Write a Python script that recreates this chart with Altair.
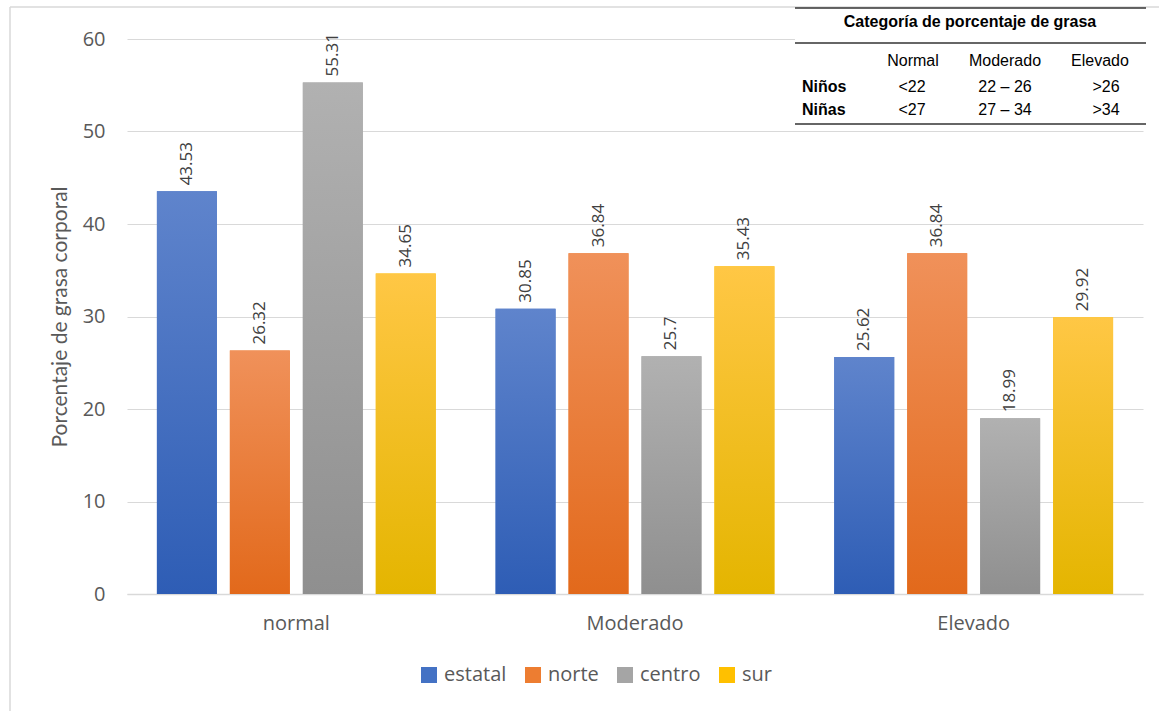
import altair as alt
import pandas as pd

categories = ["normal", "Moderado", "Elevado"]
series = ["estatal", "norte", "centro", "sur"]
estatal = [43.53, 30.85, 25.62]
norte = [26.32, 36.84, 36.84]
centro = [55.31, 25.7, 18.99]
sur = [34.65, 35.43, 29.92]

table_title = "Categoría de porcentaje de grasa"
table_header = ["Normal", "Moderado", "Elevado"]
table_rows = ["Niños", "Niñas"]
table_values = [["<22", "22 – 26", ">26"], ["<27", "27 – 34", ">34"]]

rows = []
for s, vals in zip(series, [estatal, norte, centro, sur]):
    for c, v in zip(categories, vals):
        rows.append({"cat": c, "series": s, "value": v, "label": f"{v:g}"})
df = pd.DataFrame(rows)
one = alt.Data(values=[{"k": 1}])

solid = ["#4472c4", "#ed7d31", "#a5a5a5", "#ffc000"]
grads = {
    "estatal": ("#5f84cc", "#2e5db5"),
    "norte": ("#f0915a", "#e2691b"),
    "centro": ("#b1b1b1", "#8f8f8f"),
    "sur": ("#ffc745", "#e4b500"),
}

X0, Y0 = 127, 39
W, H = 1016, 555

x_enc = alt.X("cat:N", sort=categories, scale=alt.Scale(paddingInner=0, paddingOuter=0),
              axis=alt.Axis(title=None, labelFontSize=20, labelColor="#595959", labelFont="Open Sans",
                            labelPadding=19, ticks=False, domainColor="#d9d9d9", domainWidth=1.5,
                            labelAngle=0))
xo_enc = alt.XOffset("series:N", sort=series,
                     scale=alt.Scale(domain=series, paddingInner=0.178, paddingOuter=0.41))
y_enc = alt.Y("value:Q", scale=alt.Scale(domain=[0, 60], nice=False),
              axis=alt.Axis(title="Porcentaje de grasa  corporal", values=[0, 10, 20, 30, 40, 50, 60],
                            labelFontSize=20, labelColor="#595959", labelFont="Open Sans",
                            labelPadding=22, ticks=False, domain=False, gridColor="#d9d9d9",
                            titleFontSize=21, titleColor="#595959", titleFontWeight="normal",
                            titleFont="Lato", titlePadding=12))

base = alt.Chart(df).mark_bar().encode(
    x=x_enc, xOffset=xo_enc, y=y_enc,
    color=alt.Color("series:N", sort=series, scale=alt.Scale(domain=series, range=solid),
                    legend=alt.Legend(title=None, orient="none", legendX=292, legendY=626,
                                      direction="horizontal", symbolType="square", symbolSize=256,
                                      symbolStrokeWidth=0, labelFontSize=20, labelColor="#595959",
                                      labelFont="Open Sans", columnPadding=16, labelOffset=5)),
)

layers = [base]
for s in series:
    top, bot = grads[s]
    layers.append(
        alt.Chart(df).transform_filter(alt.datum.series == s).mark_bar(
            color=alt.LinearGradient(gradient="linear",
                                     stops=[alt.GradientStop(color=top, offset=0),
                                            alt.GradientStop(color=bot, offset=1)],
                                     x1=0, x2=0, y1=0, y2=1)
        ).encode(x=x_enc, xOffset=xo_enc, y=y_enc)
    )

labels = alt.Chart(df).mark_text(angle=270, align="left", baseline="middle", dx=6,
                                 fontSize=17, color="#404040", font="Open Sans").encode(
    x=x_enc, xOffset=xo_enc, y=y_enc, text="label:N")
layers.append(labels)

# frame lines (left and top border of the chart area)
layers.append(alt.Chart(one).mark_rule(color="#d9d9d9", strokeWidth=1.5).encode(
    x=alt.value(10 - X0), y=alt.value(7 - Y0), y2=alt.value(711 - Y0)))
layers.append(alt.Chart(one).mark_rule(color="#d9d9d9", strokeWidth=1.5).encode(
    x=alt.value(10 - X0), x2=alt.value(1159 - X0), y=alt.value(7 - Y0)))

# table box
layers.append(alt.Chart(one).mark_rect(color="white").encode(
    x=alt.value(795 - X0), x2=alt.value(1148 - X0), y=alt.value(8 - Y0), y2=alt.value(126 - Y0)))
for yy in [8, 43, 124]:
    layers.append(alt.Chart(one).mark_rule(color="#333333", strokeWidth=1.5).encode(
        x=alt.value(795 - X0), x2=alt.value(1146 - X0), y=alt.value(yy - Y0)))

def txt(t, x, y, bold=False, align="center"):
    return alt.Chart(one).mark_text(text=t, fontSize=16, font="Liberation Sans", color="#000000",
                                    fontWeight="bold" if bold else "normal", align=align,
                                    baseline="middle").encode(x=alt.value(x - X0), y=alt.value(y - Y0))

layers.append(txt(table_title, 970, 22, bold=True))
col_x = [913, 1005, 1100]
val_x = [912, 1005, 1106]
for h, cx in zip(table_header, col_x):
    layers.append(txt(h, cx, 61))
for r, ry, vals in zip(table_rows, [87, 110], table_values):
    layers.append(txt(r, 802, ry, bold=True, align="left"))
    for v, vx in zip(vals, val_x):
        layers.append(txt(v, vx, ry))

chart = alt.layer(*layers).properties(
    width=W, height=H, autosize=alt.AutoSizeParams(type="none"),
    padding={"left": X0, "top": Y0, "right": 1159 - X0 - W, "bottom": 711 - Y0 - H},
    background="white",
).configure_view(stroke=None)

chart.save("out.html", embed_options={"renderer": "svg", "actions": False})
